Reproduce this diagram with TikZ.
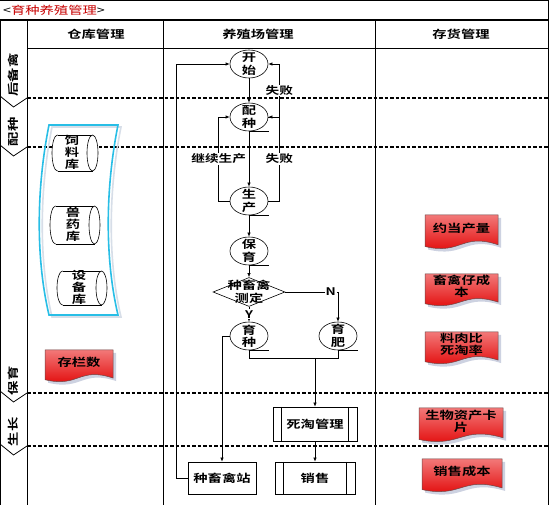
\documentclass[tikz,border=0pt]{standalone}
\usepackage{fontspec}
\setmainfont{Noto Sans CJK SC}[FakeStretch=1.3,BoldFont={Noto Sans CJK SC Bold}]
\usetikzlibrary{shapes.geometric,arrows.meta}
\definecolor{bandc}{RGB}{40,190,230}
\definecolor{bandsh}{RGB}{215,222,232}
\definecolor{docsh}{RGB}{205,210,225}
\definecolor{doctop}{RGB}{242,120,120}
\definecolor{docmid}{RGB}{240,25,25}
\definecolor{docbot}{RGB}{225,0,0}
\definecolor{docbd}{RGB}{110,70,70}
\definecolor{titred}{RGB}{200,0,0}
\newcommand\rdoc[6]{%
 \fill[docsh,shift={(3,3)}] (#2,#3) -- ({#2+#4},#3) -- ({#2+#4},{#3+0.85*#5}) .. controls ({#2+0.5*#4},{#3+0.5*#5}) and ({#2+0.5*#4},{#3+1.15*#5}) .. (#2,{#3+0.9*#5}) -- cycle;
 \shadedraw[top color=doctop,middle color=docmid,bottom color=docbot,draw=docbd,line width=0.5pt] (#2,#3) -- ({#2+#4},#3) -- ({#2+#4},{#3+0.85*#5}) .. controls ({#2+0.5*#4},{#3+0.5*#5}) and ({#2+0.5*#4},{#3+1.15*#5}) .. (#2,{#3+0.9*#5}) -- cycle;
 \node[doctext] (#1) at ({#2+0.5*#4},{#3+0.37*#5}) {#6};}
\newcommand\hcyl[5]{%
 \fill[white] ({#1+#5},#3) ellipse[x radius=#5,y radius=#4];
 \fill[white] ({#1+#5},{#3-#4}) rectangle ({#2-#5},{#3+#4});
 \begin{scope}\clip ({#1-2},{#3-#4-2}) rectangle ({#1+#5},{#3+#4+2});
  \draw[line width=0.6pt] ({#1+#5},#3) ellipse[x radius=#5,y radius=#4];\end{scope}
 \draw[line width=0.6pt] ({#1+#5},{#3-#4}) -- ({#2-#5},{#3-#4}) ({#1+#5},{#3+#4}) -- ({#2-#5},{#3+#4});
 \filldraw[fill=white,line width=0.6pt] ({#2-#5},#3) ellipse[x radius=#5,y radius=#4];}
\begin{document}
\begin{tikzpicture}[x=1pt,y=-1pt,
 lane/.style={line width=0.8pt},
 dline/.style={line width=1.1pt,dash pattern=on 3.5pt off 2pt},
 ell/.style={ellipse,draw,line width=0.6pt,minimum width=38pt,minimum height=28pt,inner sep=0pt,fill=white},
 ntext/.style={font=\bfseries\fontsize{11}{12.5}\selectfont,align=center,inner sep=0pt},
 dia/.style={diamond,draw,line width=0.6pt,minimum width=72pt,minimum height=29pt,inner sep=0pt,fill=white},
 procbox/.style={rectangle,draw,line width=0.6pt,fill=white,font=\bfseries\fontsize{11}{12}\selectfont},
 subp/.style={procbox,path picture={\draw[line width=0.6pt] ([xshift=8.5pt]path picture bounding box.north west) -- ([xshift=8.5pt]path picture bounding box.south west) ([xshift=-8.5pt]path picture bounding box.north east) -- ([xshift=-8.5pt]path picture bounding box.south east);}},
 arr/.style={line width=0.6pt,-{Latex[length=4pt,width=3.2pt]}},
 conn/.style={line width=0.6pt},
 elbl/.style={font=\bfseries\fontsize{10.5}{12}\selectfont,fill=white,inner sep=1pt},
 cyltext/.style={font=\bfseries\fontsize{11}{12}\selectfont,align=center,inner sep=0pt},
 doctext/.style={font=\bfseries\fontsize{11}{12}\selectfont,align=center,inner sep=0pt},
 hdr/.style={font=\bfseries\fontsize{11}{13}\selectfont},
 side/.style={font=\bfseries\fontsize{11}{13}\selectfont,rotate=90,inner sep=0pt}
]
\useasboundingbox (0,0) rectangle (550,505);
\fill[white] (0,0) rectangle (550,505);
% title
\node[anchor=west,font=\fontsize{11}{13}\selectfont,inner sep=0pt] (title) at (3,10) {<\textcolor{titred}{育种养殖管理}>};
% dashed phase lines
\foreach \yy in {98,147,393,446} \draw[dline] (27,\yy) -- (548,\yy);
% frame
\draw[line width=1pt] (0,0.8) -- (548,0.8);
\draw[line width=1.4pt] (0,20) -- (548,20);
\draw[lane] (548,0) -- (548,505);
\draw[lane] (0.5,20) -- (0.5,505);
\draw[lane] (27,20) -- (27,505);
\draw[lane] (163,20) -- (163,505);
\draw[lane] (375,20) -- (375,505);
\draw[lane] (27,48) -- (548,48);
\foreach \yy in {98,147,393,446} \draw[lane] (0,{\yy-2}) -- (13.5,{\yy+9}) -- (27,\yy);
% headers
\node[hdr] (h1) at (96,34) {仓库管理};
\node[hdr] (h2) at (258,34) {养殖场管理};
\node[hdr] (h3) at (461,34) {存货管理};
% side labels
\node[side] (s1) at (13,75) {后备禽};
\node[side] (s2) at (13,132) {配种};
\node[side] (s3) at (13,381) {保育};
\node[side] (s4) at (13,432) {生长};
% band
\draw[bandsh,line width=1.6pt,shift={(3,2)}] (49,125) -- (118,125) .. controls (105,190) and (105,260) .. (118,315) -- (49,315) .. controls (36,260) and (36,190) .. (49,125) -- cycle;
\draw[bandc,line width=1.6pt] (49,125) -- (118,125) .. controls (105,190) and (105,260) .. (118,315) -- (49,315) .. controls (36,260) and (36,190) .. (49,125) -- cycle;
% cylinders
\hcyl{52}{98}{153}{18}{5.5}
\node[cyltext] (slt) at (72,152) {饲\\料\\库};
\hcyl{50}{100}{225}{19}{5.5}
\node[cyltext] (syt) at (73,224) {兽\\药\\库};
\hcyl{57}{107}{288}{17}{5.5}
\node[cyltext] (sbt) at (79,287) {设\\备\\库};
% documents
\rdoc{cls}{45}{350}{68}{33}{存栏数}
\rdoc{ydcl}{425}{215}{73}{35}{约当产量}
\rdoc{cqcb}{425}{274}{73}{33}{畜禽仔成\\本}
\rdoc{lrb}{425}{332}{73}{33}{料肉比\\死淘率}
\rdoc{swzc}{419}{408}{84}{35}{生物资产卡\\片}
\rdoc{xscb}{422}{459}{80}{34}{销售成本}
% flow nodes
\node[ell,label={[ntext]center:开\\始}] (ks) at (249,64) {};
\node[ell,label={[ntext]center:配\\种}] (pz) at (249,117) {};
\node[ell,label={[ntext]center:生\\产}] (sc) at (249,201) {};
\node[ell,label={[ntext]center:保\\育}] (by) at (249,251) {};
\node[dia,label={[ntext]center:种畜禽\\测定}] (cd) at (249,292) {};
\node[ell,label={[ntext]center:育\\种}] (yz) at (249,336) {};
\node[ell,label={[ntext]center:育\\肥}] (yf) at (338,336) {};
\node[subp,minimum width=84pt,minimum height=34pt] (st) at (315,424) {死淘管理};
\node[procbox,minimum width=68pt,minimum height=32pt] (zs) at (222,478) {种畜禽站};
\node[subp,minimum width=80pt,minimum height=32pt] (xs) at (315,478) {销售};
% underlines
\foreach \nn in {pz,sc,by,yz,yf} \draw[conn] (\nn.south) -- ++(20,0);
% connectors
\draw[arr] (ks) -- (pz);
\draw[arr] (pz) -- (sc);
\draw[arr] (sc) -- (by);
\draw[arr] (by) -- (cd);
\draw[arr] (cd) -- node[elbl]{Y} (yz);
\draw[arr] (cd.east) -| node[elbl,pos=0.43]{N} (yf);
\draw[arr] (sc.west) -- ++(-11,0) |- node[elbl,pos=0.25]{继续生产} (pz.west);
\draw[arr] (sc.east) -- ++(11,0) |- node[elbl,pos=0.25]{失败} (pz.east);
\draw[arr] (pz.east) -- ++(11,0) |- node[elbl,pos=0.25]{失败} (ks.east);
\draw[arr] (zs.west) -- ++(-11,0) |- (ks.west);
\draw[arr] (yz.west) -| (zs.north);
\coordinate (mg) at (315,358);
\draw[conn] (yz.south) |- (mg);
\draw[conn] (yf.south) |- (mg);
\draw[arr] (mg) -- (st.north);
\draw[arr] (st) -- (xs);
\end{tikzpicture}
\end{document}
